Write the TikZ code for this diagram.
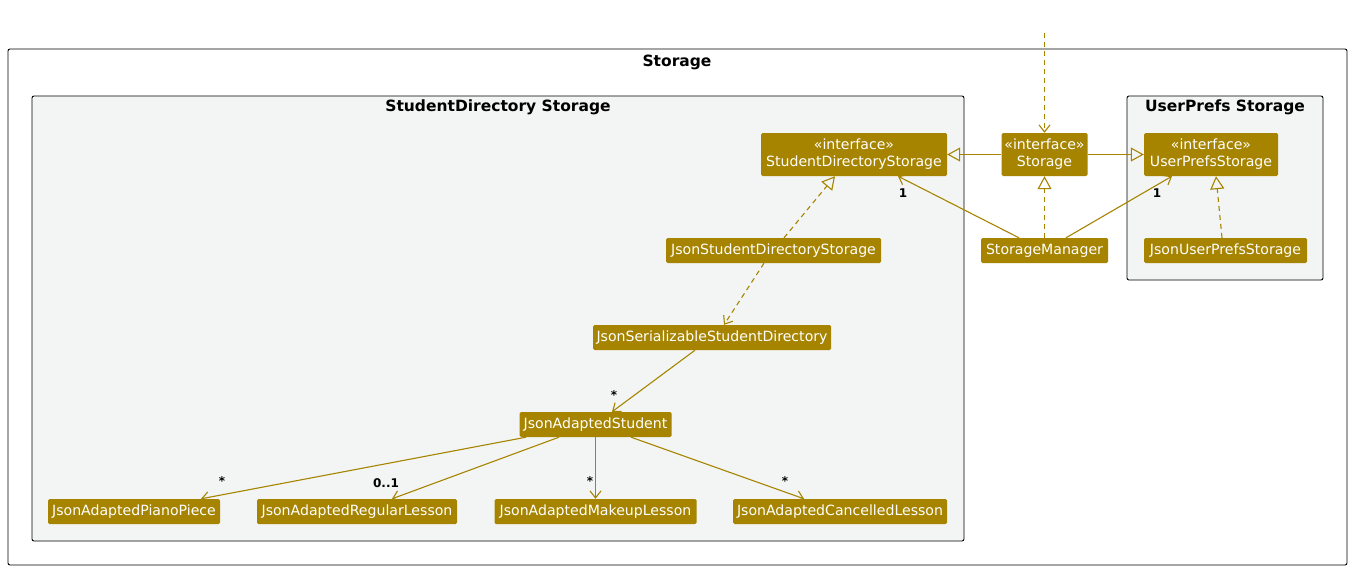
\documentclass[tikz,border=0pt]{standalone}
\usepackage{fontspec}
\setmainfont{DejaVu Sans}
\usetikzlibrary{arrows.meta}
\definecolor{nodefill}{RGB}{166,132,0}
\definecolor{pkgfill}{RGB}{243,245,244}
\begin{document}
\begin{tikzpicture}[x=1pt,y=-1pt,
  cls/.style={fill=nodefill, text=white, rounded corners=1.5pt, inner sep=0pt, align=center,
    font=\fontsize{14.1}{17}\selectfont},
  pkg/.style={draw=black, fill=pkgfill, rounded corners=2pt, line width=0.9pt},
  pkgtitle/.style={font=\bfseries\fontsize{15.5}{18}\selectfont},
  edge/.style={draw=nodefill, line width=1.1pt},
  dep/.style={edge, dash pattern=on 5pt off 4pt},
  vee/.style={-{Straight Barb[length=7pt,width=11pt,line width=1.1pt]}},
  tri/.style={-{Triangle[open,length=13pt,width=14pt,line width=1.1pt]}},
  mult/.style={font=\bfseries\fontsize{12}{14}\selectfont, text=black, inner sep=0pt}
]
\useasboundingbox (0,0) rectangle (1352,570);
% packages
\draw[draw=black, fill=white, rounded corners=2pt, line width=0.9pt] (8,49) rectangle (1347,565);
\node[pkgtitle] (tStorage) at (677,62) {Storage};
\draw[pkg] (32,96) rectangle (964,541);
\node[pkgtitle] (tSD) at (498,107) {StudentDirectory Storage};
\draw[pkg] (1127,96) rectangle (1323,280);
\node[pkgtitle] (tUP) at (1225,107) {UserPrefs Storage};
% classes
\node[cls, minimum width=186pt, minimum height=43pt] (sds) at (854,154.5) {«interface»\\StudentDirectoryStorage};
\node[cls, minimum width=86pt, minimum height=43pt] (st) at (1044.5,154.5) {«interface»\\Storage};
\node[cls, minimum width=134pt, minimum height=43pt] (ups) at (1211,154.5) {«interface»\\UserPrefsStorage};
\node[cls, minimum width=215pt, minimum height=25pt] (jsds) at (773.5,250.5) {JsonStudentDirectoryStorage};
\node[cls, minimum width=127pt, minimum height=25pt] (sm) at (1044.5,250.5) {StorageManager};
\node[cls, minimum width=163pt, minimum height=25pt] (jups) at (1225.5,250.5) {JsonUserPrefsStorage};
\node[cls, minimum width=238pt, minimum height=25pt] (jser) at (712,337.5) {JsonSerializableStudentDirectory};
\node[cls, minimum width=152pt, minimum height=25pt] (jas) at (595.5,424.5) {JsonAdaptedStudent};
\node[cls, minimum width=172pt, minimum height=25pt] (piano) at (134,511.5) {JsonAdaptedPianoPiece};
\node[cls, minimum width=200pt, minimum height=25pt] (reg) at (357,511.5) {JsonAdaptedRegularLesson};
\node[cls, minimum width=202pt, minimum height=25pt] (mak) at (595.5,511.5) {JsonAdaptedMakeupLesson};
\node[cls, minimum width=214pt, minimum height=25pt] (can) at (840,511.5) {JsonAdaptedCancelledLesson};
\coordinate (top) at (1044.5,33);
% edges
\draw[dep, vee] (top) -- (st.north);
\draw[edge, tri] (st.west) -- (sds.east);
\draw[edge, tri] (st.east) -- (ups.west);
\draw[dep, tri] (sm.north) -- (st.south);
\draw[edge, vee] ([xshift=-25.5pt]sm.north) -- ([xshift=44pt]sds.south);
\draw[edge, vee] ([xshift=21.5pt]sm.north) -- ([xshift=-39pt]ups.south);
\draw[dep, tri] ([xshift=-3.5pt]jups.north) -- ([xshift=5pt]ups.south);
\draw[dep, tri] ([xshift=10.5pt]jsds.north) -- ([xshift=-19pt]sds.south);
\draw[dep, vee] ([xshift=-9.5pt]jsds.south) -- ([xshift=12pt]jser.north);
\draw[edge, vee] ([xshift=-17pt]jser.south) -- ([xshift=16.5pt]jas.north);
\draw[edge, vee] ([xshift=-69.5pt]jas.south) -- ([xshift=67pt]piano.north);
\draw[edge, vee] ([xshift=-36.5pt]jas.south) -- ([xshift=35pt]reg.north);
\draw[edge, vee] (jas.south) -- (mak.north);
\draw[edge, vee] ([xshift=35.5pt]jas.south) -- ([xshift=-36pt]can.north);
% multiplicities
\node[mult] (m1) at (903,193) {1};
\node[mult] (m2) at (1157,193) {1};
\node[mult] (m3) at (614,395) {*};
\node[mult] (m4) at (222,481) {*};
\node[mult] (m5) at (386,483) {0..1};
\node[mult] (m6) at (590,481) {*};
\node[mult] (m7) at (785,481) {*};
\end{tikzpicture}
\end{document}
